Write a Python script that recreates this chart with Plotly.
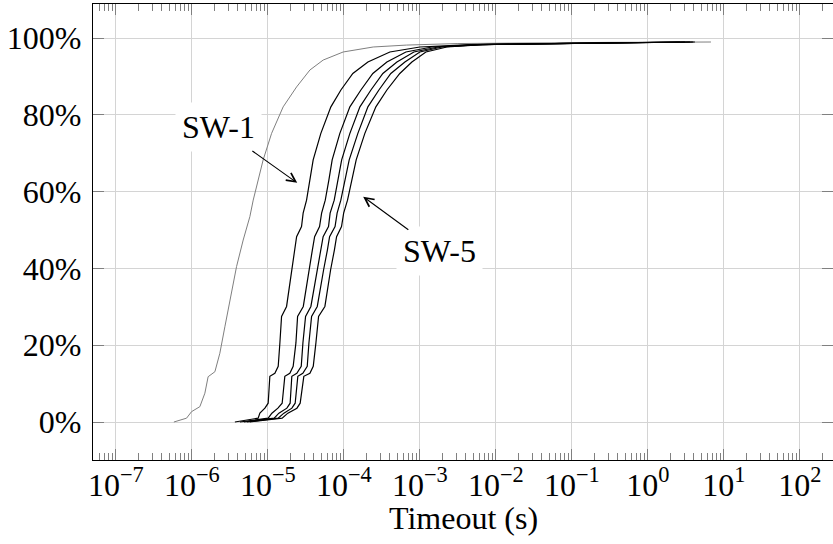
import numpy as np
import plotly.graph_objects as go

# y-levels (%) shared by the five SW curves
levels = [0, 1.0, 2.3, 3.6, 4.9, 11.9, 12.7, 14.5, 20.6, 27.5, 30.1, 36.2, 39.6,
          44.8, 48.3, 50.9, 54.4, 57.8, 63.1, 68.3, 75.2, 82.1, 86.5, 90.8, 93.8,
          96.4, 97.7, 98.3, 98.6, 98.9, 99.0]

# log10(timeout in s) for each SW curve at those levels
sw1_log = [-5.434, -5.128, -5.105, -5.039, -4.996, -4.974, -4.908, -4.864, -4.842, -4.820,
           -4.754, -4.711, -4.688, -4.645, -4.622, -4.557, -4.536, -4.491, -4.447, -4.404,
           -4.303, -4.171, -4.039, -3.882, -3.684, -3.395, -3.000, -2.342, -1.289, 0.026, 0.421]
sw2_log = [-5.368, -4.996, -4.947, -4.868, -4.812, -4.777, -4.711, -4.667, -4.631, -4.609,
           -4.534, -4.487, -4.464, -4.415, -4.385, -4.320, -4.293, -4.245, -4.197, -4.154,
           -4.053, -3.921, -3.776, -3.619, -3.434, -3.184, -2.842, -2.263, -1.250, 0.026, 0.487]
sw3_log = [-5.316, -4.917, -4.855, -4.750, -4.707, -4.685, -4.619, -4.561, -4.539, -4.504,
           -4.434, -4.382, -4.352, -4.303, -4.273, -4.202, -4.181, -4.127, -4.079, -4.029,
           -3.921, -3.789, -3.644, -3.487, -3.302, -3.079, -2.763, -2.224, -1.236, 0.026, 0.553]
sw4_log = [-5.276, -4.865, -4.789, -4.684, -4.641, -4.606, -4.540, -4.482, -4.460, -4.425,
           -4.350, -4.303, -4.267, -4.217, -4.188, -4.116, -4.089, -4.040, -3.986, -3.930,
           -3.816, -3.684, -3.539, -3.382, -3.197, -3.000, -2.711, -2.197, -1.223, 0.026, 0.592]
sw5_log = [-5.237, -4.812, -4.737, -4.618, -4.575, -4.527, -4.447, -4.403, -4.368, -4.333,
           -4.250, -4.204, -4.175, -4.125, -4.096, -4.031, -4.003, -3.952, -3.894, -3.838,
           -3.724, -3.579, -3.434, -3.264, -3.105, -2.921, -2.645, -2.171, -1.210, 0.026, 0.618]

# gray baseline curve
base_pct = [0, 1.0, 2.7, 4.0, 7.5, 11.8, 13.1, 17.9, 24.8, 31.7, 40.5, 47.4, 53.5, 57.8,
            68.3, 75.2, 82.1, 87.3, 91.7, 94.3, 96.4, 97.7, 98.2, 98.6, 98.8, 98.9, 99.0]
base_log = [-6.237, -6.070, -6.004, -5.895, -5.829, -5.786, -5.697, -5.632, -5.566, -5.500,
            -5.412, -5.325, -5.237, -5.193, -5.062, -4.951, -4.799, -4.622, -4.447, -4.272,
            -4.009, -3.614, -3.175, -2.500, -1.500, -0.500, 0.830]

x_exponents = list(range(-7, 3))
x_ticktext = [f"10<sup>{'−' if e < 0 else ''}{abs(e)}</sup>" for e in x_exponents]
y_tickvals = [0, 20, 40, 60, 80, 100]
y_ticktext = [f"{v}%" for v in y_tickvals]
x_title = "Timeout (s)"

FONT = "Liberation Serif"
FS = 32

fig = go.Figure()
fig.add_trace(go.Scatter(x=10 ** np.array(base_log), y=base_pct, mode="lines",
                         line=dict(color="#7f7f7f", width=1), name="baseline",
                         showlegend=False))
for name, lg in [("SW-1", sw1_log), ("SW-2", sw2_log), ("SW-3", sw3_log),
                 ("SW-4", sw4_log), ("SW-5", sw5_log)]:
    fig.add_trace(go.Scatter(x=10 ** np.array(lg), y=levels, mode="lines",
                             line=dict(color="black", width=1.2), name=name,
                             showlegend=False))

minor_vals = [k * 10.0 ** e for e in range(-8, 3) for k in range(2, 10)]

fig.update_xaxes(
    type="log", range=[-7.301, -7.301 + 740 / 76], automargin=False,
    tickmode="array", tickvals=[10.0 ** e for e in x_exponents], ticktext=x_ticktext,
    ticks="inside", ticklen=11, tickwidth=1, tickcolor="#808080",
    minor=dict(tickmode="array", tickvals=minor_vals, ticks="inside", ticklen=7,
               tickwidth=1, tickcolor="#808080", showgrid=False),
    showgrid=True, gridcolor="#d4d4d4", gridwidth=1.3,
    showline=True, linecolor="black", linewidth=1.2, mirror="ticks",
    zeroline=False,
    tickfont=dict(family=FONT, size=FS, color="black"),
    ticklabelstandoff=-4,
)
fig.update_yaxes(
    range=[-9.9, 108.9], automargin=False,
    tickmode="array", tickvals=y_tickvals, ticktext=y_ticktext,
    ticks="inside", ticklen=11, tickwidth=1, tickcolor="#808080",
    showgrid=True, gridcolor="#d4d4d4", gridwidth=1.3,
    showline=True, linecolor="black", linewidth=1.2, mirror="ticks",
    zeroline=False,
    tickfont=dict(family=FONT, size=FS, color="black"),
    ticklabelstandoff=4,
)

# x-axis title
fig.add_annotation(x=0.5, y=-0.128, xref="paper", yref="paper", text=x_title,
                   showarrow=False, yanchor="middle",
                   font=dict(family=FONT, size=FS, color="black"))

# labels with white boxes
fig.add_annotation(x=-5.653, y=76.9, xref="x", yref="y", text="SW-1", showarrow=False,
                   font=dict(family=FONT, size=FS, color="black"),
                   bgcolor="white", borderpad=6)
fig.add_annotation(x=-2.737, y=44.6, xref="x", yref="y", text="SW-5", showarrow=False,
                   font=dict(family=FONT, size=FS, color="black"),
                   bgcolor="white", borderpad=6)
# arrows
fig.add_annotation(x=-4.614, y=62.3, ax=-5.224, ay=70.9, xref="x", yref="y",
                   axref="x", ayref="y", text="", showarrow=True,
                   arrowhead=5, arrowsize=1.6, arrowwidth=1.1, arrowcolor="black")
fig.add_annotation(x=-3.746, y=58.7, ax=-3.132, ay=49.8, xref="x", yref="y",
                   axref="x", ayref="y", text="", showarrow=True,
                   arrowhead=5, arrowsize=1.6, arrowwidth=1.1, arrowcolor="black")

fig.update_layout(
    width=833, height=544,
    margin=dict(l=93, r=0, t=4, b=84),
    paper_bgcolor="white", plot_bgcolor="white",
    font=dict(family=FONT, size=FS, color="black"),
)

fig.write_html("out.html", config={"displayModeBar": False},
               post_script="document.body.style.margin='0';document.body.style.overflow='hidden';")
